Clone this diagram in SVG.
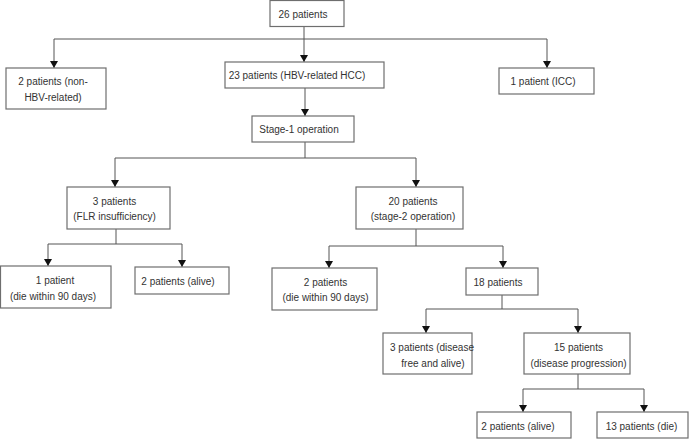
<svg xmlns="http://www.w3.org/2000/svg" width="690" height="439" viewBox="0 0 690 439">
<defs>
<marker id="arr" markerUnits="userSpaceOnUse" markerWidth="8" markerHeight="10" refX="7" refY="4" orient="auto">
<path d="M0,0 L7,4 L0,8 Z" fill="#111"/>
</marker>
<style>
.box{fill:#fff;stroke:#6e6e6e;stroke-width:1.2}
text{font-family:"Liberation Sans",Arial,sans-serif;font-size:10px;fill:#333;text-anchor:middle}
.ln{fill:none;stroke:#555;stroke-width:1}
.ar{fill:none;stroke:#555;stroke-width:1;marker-end:url(#arr)}
</style>
</defs>
<rect width="690" height="439" fill="#fff"/>
<g id="connectors">
<path class="ln" d="M304,26 V39 M54,39 H547 M305,142 V158 M115,158 H416 M116,229 V244 M48,244 H182 M416,229 V246 M329,246 H503 M502,295 V309 M426,309 H578 M578,374 V389 M523,389 H644"/>
<path class="ar" d="M54,39 V68"/>
<path class="ar" d="M304,39 V62"/>
<path class="ar" d="M547,39 V68"/>
<path class="ar" d="M305,88 V116"/>
<path class="ar" d="M115,158 V187"/>
<path class="ar" d="M416,158 V187"/>
<path class="ar" d="M48,244 V266"/>
<path class="ar" d="M182,244 V267"/>
<path class="ar" d="M329,246 V268"/>
<path class="ar" d="M503,246 V268"/>
<path class="ar" d="M426,309 V333"/>
<path class="ar" d="M578,309 V333"/>
<path class="ar" d="M523,389 V412"/>
<path class="ar" d="M644,389 V412"/>
</g>
<g id="n26"><rect class="box" x="270" y="0.5" width="74" height="26"/><text x="303" y="17.5">26 patients</text></g>
<g id="nNonHBV"><rect class="box" x="6" y="68" width="100" height="41"/><text x="53" y="85">2 patients (non-</text><text x="53" y="100.5">HBV-related)</text></g>
<g id="nHBV"><rect class="box" x="225" y="62" width="159" height="26"/><text x="297" y="79">23 patients (HBV-related HCC)</text></g>
<g id="nICC"><rect class="box" x="499" y="68" width="95" height="26"/><text x="543" y="85">1 patient (ICC)</text></g>
<g id="nStage1"><rect class="box" x="252" y="116" width="102" height="26"/><text x="299" y="132.5">Stage-1 operation</text></g>
<g id="nFLR"><rect class="box" x="67" y="187" width="103" height="42"/><text x="114.5" y="204.5">3 patients</text><text x="114.5" y="219.5">(FLR insufficiency)</text></g>
<g id="nStage2"><rect class="box" x="356" y="187" width="107" height="42"/><text x="413" y="205">20 patients</text><text x="413" y="219.5">(stage-2 operation)</text></g>
<g id="nFLRdie"><rect class="box" x="0.5" y="266" width="110.5" height="42"/><text x="55" y="283.5">1 patient</text><text x="53" y="299.5">(die within 90 days)</text></g>
<g id="nFLRalive"><rect class="box" x="135" y="267" width="94" height="27"/><text x="178" y="284.5">2 patients (alive)</text></g>
<g id="nS2die"><rect class="box" x="272" y="268" width="105" height="42"/><text x="325.5" y="285.5">2 patients</text><text x="325.5" y="300.5">(die within 90 days)</text></g>
<g id="n18"><rect class="box" x="466" y="268" width="72" height="27"/><text x="498" y="285.5">18 patients</text></g>
<g id="nFree"><rect class="box" x="383" y="333" width="89" height="41"/><text x="432" y="350.5">3 patients (disease</text><text x="433" y="366.5">free and alive)</text></g>
<g id="nProg"><rect class="box" x="524" y="333" width="106" height="41"/><text x="578.5" y="350.5">15 patients</text><text x="578.5" y="366.5">(disease progression)</text></g>
<g id="nAlive"><rect class="box" x="477" y="412" width="94" height="26"/><text x="518" y="430">2 patients (alive)</text></g>
<g id="nDie"><rect class="box" x="597" y="412" width="91" height="26"/><text x="641.5" y="430">13 patients (die)</text></g>
</svg>
